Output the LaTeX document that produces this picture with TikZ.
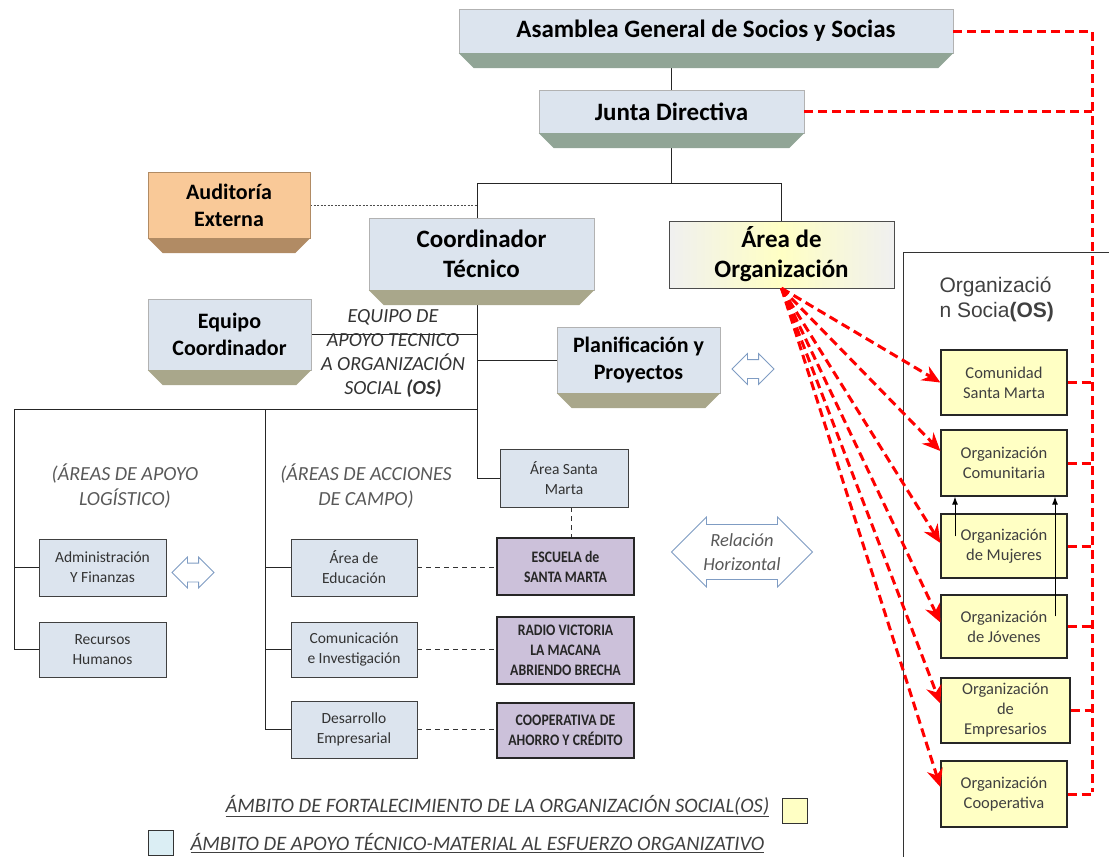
\documentclass[tikz,border=0pt]{standalone}
\usepackage{fontspec}
\setmainfont{Carlito}
\newfontfamily\arialfont{Liberation Sans}
\newfontfamily\narrowfont[FakeStretch=0.86]{Carlito}
\usetikzlibrary{positioning,arrows.meta,shapes.arrows,backgrounds}

\definecolor{boxblue}{HTML}{DCE4EE}
\definecolor{greenshade}{HTML}{91A596}
\definecolor{oliveshade}{HTML}{A9A78B}
\definecolor{auditfill}{HTML}{F9C998}
\definecolor{auditshade}{HTML}{B18B64}
\definecolor{purplefill}{HTML}{CCC1DA}
\definecolor{osyellow}{HTML}{FFFFC4}
\definecolor{arrowblue}{HTML}{7F9CC3}
\definecolor{legendblue}{HTML}{DBEEF4}
\definecolor{textgray}{HTML}{404040}

\tikzset{
  topbox/.style={draw=gray!60, fill=boxblue, align=center, inner sep=0pt, font=\fontsize{25}{30}\selectfont\bfseries},
  midbox/.style={draw=gray!60, fill=boxblue, align=center, inner sep=0pt, font=\fontsize{22}{27}\selectfont\bfseries},
  auditbox/.style={midbox, fill=auditfill, draw=auditshade},
  orgarea/.style={topbox, draw=black!70, left color=gray!12, right color=gray!12, middle color=osyellow},
  areabox/.style={draw=black!75, fill=boxblue, align=center, inner sep=0pt, minimum width=126, minimum height=56, text=black!80, font=\fontsize{15.5}{20}\selectfont},
  fieldbox/.style={draw=black!85, line width=1.2pt, fill=purplefill, align=center, inner sep=0pt, minimum width=137, text=black!85, font=\narrowfont\fontsize{16}{20}\selectfont\bfseries},
  osbox/.style={draw=black!85, line width=1.3pt, fill=osyellow, align=center, inner sep=0pt, minimum width=126, text=textgray, font=\fontsize{16.5}{20}\selectfont},
  hollowarrow/.style={double arrow, draw=arrowblue, fill=white, line width=0.8pt, double arrow head extend=6pt, inner xsep=0pt},
  link/.style={line width=0.9pt, black!85},
  dotlink/.style={line width=0.9pt, black!70, dash pattern=on 2pt off 1.5pt},
  dashlink/.style={line width=0.8pt, black!80, dash pattern=on 5pt off 4pt},
  reddash/.style={line width=3pt, red, dash pattern=on 9pt off 5pt},
  redarrow/.style={reddash, -{Stealth[length=18pt, width=16pt]}},
  uparrow/.style={line width=1pt, -{Latex[length=8pt, width=6pt]}},
  note/.style={align=center, text=black!65, font=\fontsize{20}{25}\selectfont\itshape},
  legend/.style={anchor=west, text=textgray, font=\fontsize{20.5}{24}\selectfont\itshape},
}

\begin{document}
\begin{tikzpicture}[x=1pt, y=-1pt]
    \useasboundingbox (0,0) rectangle (1109,857);

    % Governing bodies
    \node[topbox, minimum width=494, minimum height=44] (asam) at (706,31) {Asamblea General de Socios y Socias};
    \node[topbox, minimum width=265, minimum height=43] (junta) at (671.5,111.5) {Junta Directiva};
    \node[auditbox, minimum width=162, minimum height=66] (audit) at (229,205) {Auditoría\\Externa};
    \node[topbox, minimum width=225, minimum height=72] (coord) at (481.5,254) {Coordinador\\Técnico};
    \node[orgarea, minimum width=225, minimum height=67] (areaorg) at (781.5,254.5) {Área de\\Organización};
    \node[midbox, minimum width=163, minimum height=71] (equipo) at (229.5,334.5) {Equipo\\Coordinador};
    \node[midbox, minimum width=163, minimum height=66] (planif) at (638.5,360) {Planificación y\\Proyectos};

    % 3D bottom faces
    \foreach \n/\c in {asam/greenshade, junta/greenshade, audit/auditshade, coord/oliveshade, equipo/oliveshade, planif/oliveshade}
        \fill[\c] (\n.south west) -- ([shift={(15,15)}]\n.south west) -- ([shift={(-15,15)}]\n.south east) -- (\n.south east) -- cycle;

    % Support and field areas
    \node[areabox, minimum width=128, minimum height=58] (stamarta) at (564,478) {Área Santa\\Marta};
    \node[areabox, minimum width=127, minimum height=57] (admin) at (102.5,567.5) {Administración\\Y Finanzas};
    \node[areabox, minimum width=127, minimum height=55] (rrhh) at (102.5,649.5) {Recursos\\Humanos};
    \node[areabox, minimum height=57] (educ) at (354,567.5) {Área de\\Educación};
    \node[areabox, minimum height=55] (comun) at (354,649.5) {Comunicación\\e Investigación};
    \node[areabox, minimum height=57] (desarr) at (354,729.5) {Desarrollo\\Empresarial};
    \node[fieldbox, minimum height=57] (escuela) at (565.5,566.5) {ESCUELA de\\SANTA MARTA};
    \node[fieldbox, minimum height=67] (radio) at (565.5,650.5) {RADIO VICTORIA\\LA MACANA\\ABRIENDO BRECHA};
    \node[fieldbox, minimum height=55] (coop) at (565.5,730.5) {COOPERATIVA DE\\AHORRO Y CRÉDITO};

    % Social organization
    \node[anchor=west, align=left, text=textgray, font=\arialfont\fontsize{21}{25}\selectfont] (ostitle) at (936,299) {Organizació\\n Socia\textbf{(OS)}};
    \node[osbox, minimum height=65] (comunidad) at (1004,382.5) {Comunidad\\Santa Marta};
    \node[osbox, minimum height=66] (comunitaria) at (1004,463) {Organización\\Comunitaria};
    \node[osbox, minimum height=64] (mujeres) at (1004,546) {Organización\\de Mujeres};
    \node[osbox, minimum height=63] (jovenes) at (1004,626.5) {Organización\\de Jóvenes};
    \node[osbox, minimum width=129, minimum height=65] (empresarios) at (1005.5,710.5) {Organización\\de\\Empresarios};
    \node[osbox, minimum height=66] (cooperativa) at (1004,794) {Organización\\Cooperativa};

    % Labels and relation arrows
    \node[note, text=black!80, font=\fontsize{20}{24}\selectfont\itshape] (apoyo) at (393,354) {EQUIPO DE\\APOYO TECNICO\\A ORGANIZACIÓN\\SOCIAL \textbf{(OS)}};
    \node[note] (logisnote) at (125,486) {(ÁREAS DE APOYO\\LOGÍSTICO)};
    \node[note] (camponote) at (366,486) {(ÁREAS DE ACCIONES\\DE CAMPO)};
    \node[hollowarrow, minimum height=42, inner ysep=9pt] (planarrow) at (753,369) {};
    \node[hollowarrow, minimum height=42, inner ysep=9pt] (adminarrow) at (193,572.5) {};
    \node[hollowarrow, note, minimum height=141, minimum width=70, font=\fontsize{18.5}{24}\selectfont\itshape] (relacion) at (742,552) {Relación\\Horizontal};

    % Legend
    \node[draw=black!80, fill=osyellow, line width=1pt, minimum size=25, inner sep=0pt] (keyyellow) at (795,810.5) {};
    \node[draw=black!80, fill=legendblue, line width=1pt, minimum size=25, inner sep=0pt] (keyblue) at (161,843) {};
    \node[legend] (legendos) at (222,806) {\underline{ÁMBITO DE FORTALECIMIENTO DE LA ORGANIZACIÓN SOCIAL(OS)}};
    \node[legend] (legendtec) at (187,843) {\underline{ÁMBITO DE APOYO TÉCNICO-MATERIAL AL ESFUERZO ORGANIZATIVO}};

    % Connectors
    \begin{scope}[on background layer]
        \coordinate (bus) at (477,183);
        \coordinate (lbus) at (477,409);
        \coordinate (logis) at (14,409);
        \coordinate (campo) at (265,409);
        \draw[line width=0.8pt, black!80] (903,857) |- (1109,252);
        \draw[link] (junta.north) -- (junta.north |- asam.south);
        \draw[link] (junta.south) -- (junta.south |- bus);
        \draw[link] (bus |- coord.north) -- (bus) -| (areaorg.north);
        \draw[dotlink] (audit.east) -- (audit.east -| bus);
        \draw[link] (coord.south -| bus) |- (stamarta.west);
        \draw[link] (equipo.east) -- (equipo.east -| bus);
        \draw[link] (planif.west -| bus) -- (planif.west);
        \draw[link] (lbus) -- (logis) |- (rrhh.west);
        \draw[link] (logis |- admin.west) -- (admin.west);
        \draw[link] (campo) |- (desarr.west);
        \draw[link] (campo |- educ.west) -- (educ.west);
        \draw[link] (campo |- comun.west) -- (comun.west);
        \draw[dashlink] ([xshift=7pt]stamarta.south) -- ([xshift=7pt]stamarta.south |- escuela.north);
        \draw[dashlink] (educ.east) -- (educ.east -| escuela.west);
        \draw[dashlink] (comun.east) -- (comun.east -| radio.west);
        \draw[dashlink] (desarr.east) -- (desarr.east -| coop.west);
    \end{scope}

    % Red relations
    \coordinate (redbus) at (1092,792);
    \draw[reddash] (asam.east) -| (redbus);
    \draw[reddash] (junta.east) -- (junta.east -| redbus);
    \foreach \b in {comunidad, comunitaria, mujeres, jovenes, empresarios, cooperativa}
        \draw[reddash] (\b.east) -- (\b.east -| redbus);
    \foreach \b/\s in {comunidad/0, comunitaria/12, mujeres/3, jovenes/4, empresarios/7, cooperativa/7}
        \draw[redarrow] (areaorg.south) -- ([yshift=\s pt]\b.west);

    \draw[uparrow] ([shift={(-49,23)}]mujeres.north) -- ([xshift=-49pt]comunitaria.south);
    \draw[uparrow] ([shift={(51,22)}]jovenes.north) -- ([xshift=51pt]comunitaria.south);
\end{tikzpicture}
\end{document}
